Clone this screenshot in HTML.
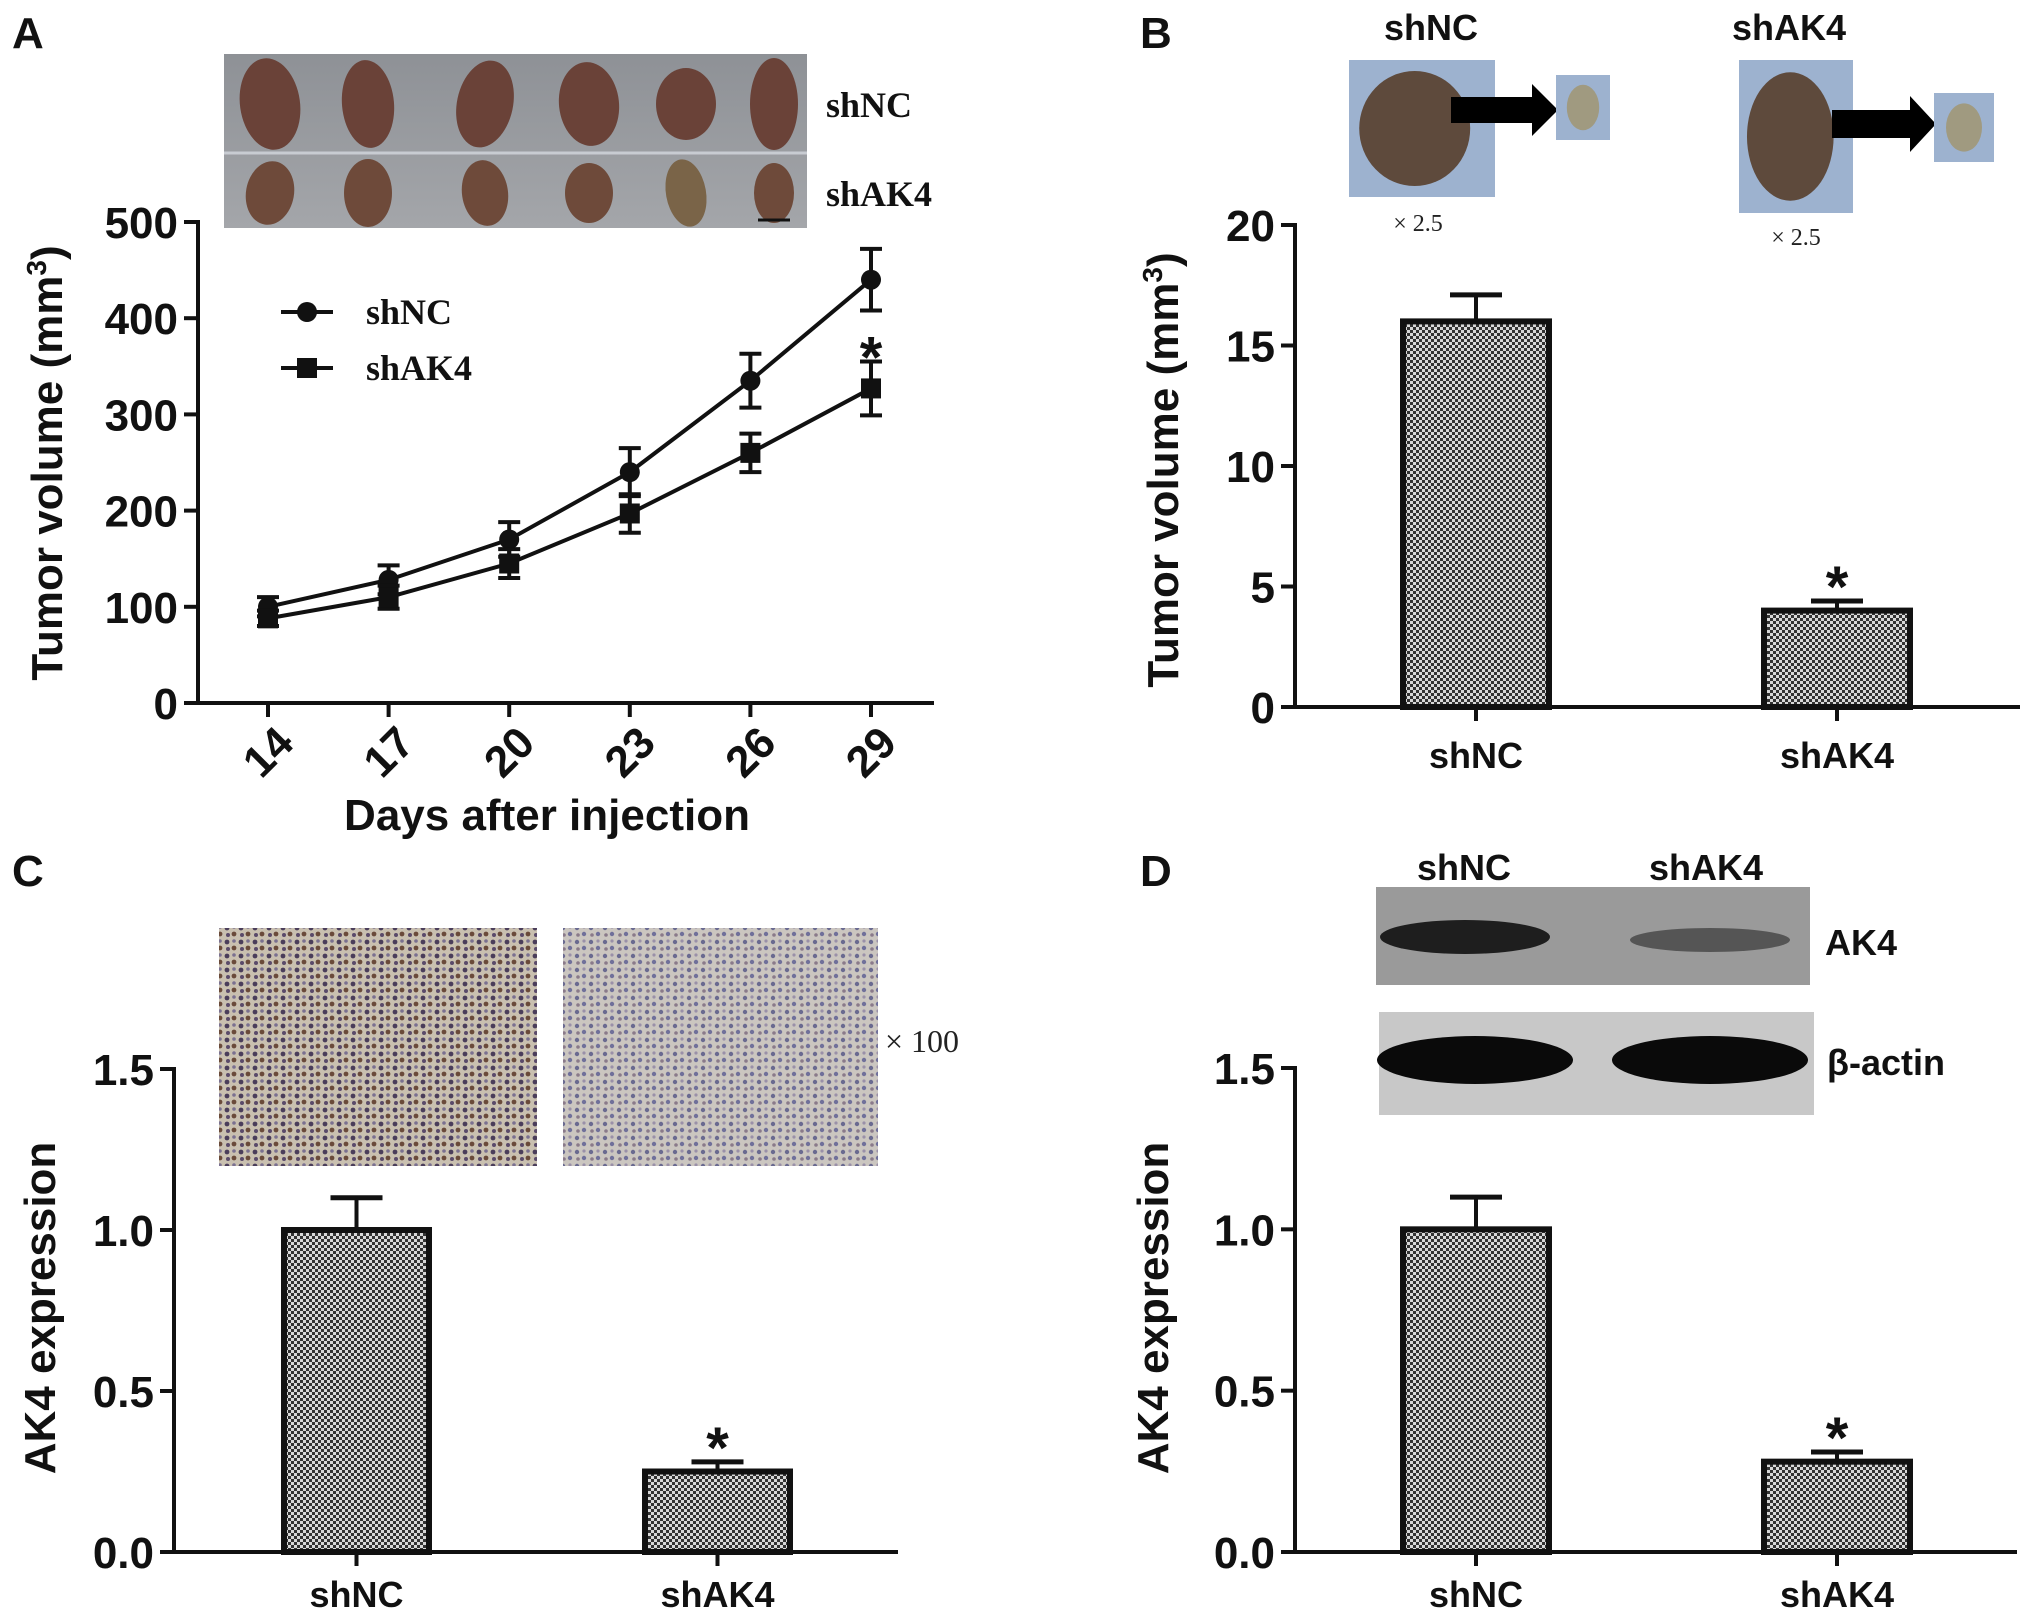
<!DOCTYPE html>
<html><head><meta charset="utf-8"><style>
html,body{margin:0;padding:0;background:#fff;}
svg{display:block;}
.tk{font-family:"Liberation Sans",sans-serif;font-weight:bold;font-size:44px;fill:#111;}
.st{font-family:"Liberation Sans",sans-serif;font-weight:bold;font-size:58px;fill:#111;}
.cat{font-family:"Liberation Sans",sans-serif;font-weight:bold;font-size:36px;fill:#111;}
.ser{font-family:"Liberation Serif",serif;font-weight:bold;font-size:36px;fill:#111;}
.pl{font-family:"Liberation Sans",sans-serif;font-weight:bold;font-size:44px;fill:#111;}
</style></head><body>
<svg id="fig" width="2031" height="1624" viewBox="0 0 2031 1624" xmlns="http://www.w3.org/2000/svg">
<defs>
<pattern id="chk" width="6" height="6" patternUnits="userSpaceOnUse">
<rect width="6" height="6" fill="#d8d8d8"/><rect width="3" height="3" fill="#333"/><rect x="3" y="3" width="3" height="3" fill="#333"/>
</pattern>
<linearGradient id="photoA" x1="0" y1="0" x2="0" y2="1"><stop offset="0" stop-color="#8e9196"/><stop offset="1" stop-color="#a4a6aa"/></linearGradient>
<pattern id="ihc1" width="14" height="14" patternUnits="userSpaceOnUse">
<rect width="14" height="14" fill="#c9c0b0"/><circle cx="3" cy="4" r="2.4" fill="#4a3d5a"/><circle cx="10" cy="10" r="2.4" fill="#6a4a3a"/><circle cx="10" cy="3" r="1.8" fill="#7a7090"/><circle cx="4" cy="11" r="2" fill="#5a4a6a"/>
</pattern>
<pattern id="ihc2" width="14" height="14" patternUnits="userSpaceOnUse">
<rect width="14" height="14" fill="#cbc6c0"/><circle cx="3" cy="4" r="2.2" fill="#6a6a90"/><circle cx="10" cy="10" r="2.2" fill="#70709a"/><circle cx="10" cy="3" r="1.6" fill="#9a90a8"/><circle cx="4" cy="11" r="1.8" fill="#8a7a8a"/>
</pattern>
</defs>
<g id="root"></g>
</svg>
<script>
// ---- Panel A data ----
const daysA = [14, 17, 20, 23, 26, 29];
const shNCvol = [100, 128, 170, 240, 335, 440];
const shNCerr = [10, 15, 18, 25, 28, 32];
const shAK4vol = [88, 110, 145, 197, 260, 327];
const shAK4err = [8, 12, 15, 20, 20, 28];
const ticksA = [0, 100, 200, 300, 400, 500];
// ---- Panel B data ----
const catsB = ["shNC", "shAK4"];
const volB = [16, 4];
const errB = [1.1, 0.4];
const ticksB = [0, 5, 10, 15, 20];
// ---- Panel C data ----
const catsC = ["shNC", "shAK4"];
const exprC = [1.0, 0.25];
const errC = [0.1, 0.03];
const ticksC = ["0.0", "0.5", "1.0", "1.5"];
// ---- Panel D data ----
const catsD = ["shNC", "shAK4"];
const exprD = [1.0, 0.28];
const errD = [0.1, 0.03];
const ticksD = ["0.0", "0.5", "1.0", "1.5"];

const NS = "http://www.w3.org/2000/svg";
const root = document.getElementById("root");
function mk(tag, attrs, parent, text) {
  const e = document.createElementNS(NS, tag);
  for (const k in attrs) e.setAttribute(k, attrs[k]);
  if (text !== undefined) e.textContent = text;
  (parent || root).appendChild(e);
  return e;
}
function line(x1, y1, x2, y2, w, p) { return mk("line", {x1, y1, x2, y2, stroke: "#111", "stroke-width": w || 4}, p); }

// ================= Panel A =================
const gA = mk("g", {});


const lblA = mk("text", {x: 12, y: 48, class: "pl"}, gA, "A");


const phA = mk("g", {}, gA);


mk("rect", {x: 224, y: 54, width: 583, height: 174, fill: "url(#photoA)"}, phA);
mk("line", {x1: 224, y1: 153, x2: 807, y2: 153, stroke: "#c8ccd2", "stroke-width": 3}, phA);
const tumX = [270, 368, 485, 589, 686, 774];
const tumR1 = [[30,46,-8],[26,44,-5],[28,44,12],[30,42,-6],[30,36,0],[24,46,0]];
const tumR2 = [[24,32,10],[24,34,0],[23,33,-8],[24,30,0],[20,34,-10],[20,30,0]];
tumX.forEach((x, i) => {
  mk("ellipse", {cx: x, cy: 104, rx: tumR1[i][0], ry: tumR1[i][1], fill: "#6a4238", transform: `rotate(${tumR1[i][2]},${x},104)`}, phA);
  mk("ellipse", {cx: x, cy: 193, rx: tumR2[i][0], ry: tumR2[i][1], fill: i===4?"#7a6448":"#6e4a3a", transform: `rotate(${tumR2[i][2]},${x},193)`}, phA);
});
mk("line", {x1: 758, y1: 220, x2: 790, y2: 220, stroke: "#111", "stroke-width": 3}, phA);
const tA1 = mk("text", {x: 826, y: 117, class: "ser"}, gA, "shNC");


const tA2 = mk("text", {x: 826, y: 206, class: "ser"}, gA, "shAK4");



const axA = {x0: 198, x1: 934, y0: 703, y1: 222, vmax: 500, d0: 268, d1: 871};
const yA = v => axA.y0 - (v / axA.vmax) * (axA.y0 - axA.y1);
const xA = d => axA.d0 + (d - daysA[0]) / (daysA[daysA.length - 1] - daysA[0]) * (axA.d1 - axA.d0);
const axAg = mk("g", {}, gA);


line(axA.x0, axA.y1 - 2, axA.x0, axA.y0 + 2, 4, axAg);
line(axA.x0 - 2, axA.y0, axA.x1, axA.y0, 4, axAg);
ticksA.forEach(t => {
  line(axA.x0 - 14, yA(t), axA.x0, yA(t), 4, axAg);
  const e = mk("text", {x: axA.x0 - 20, y: yA(t) + 16, class: "tk", "text-anchor": "end"}, axAg, String(t));
  
  
});
daysA.forEach(d => {
  line(xA(d), axA.y0, xA(d), axA.y0 + 14, 4, axAg);
  const e = mk("text", {x: 0, y: 0, class: "tk", "text-anchor": "middle", transform: `translate(${xA(d)},${752}) rotate(-45) translate(0,15)`}, axAg, String(d));
  
  
});
const xtA = mk("text", {x: 547, y: 830, class: "tk", "text-anchor": "middle"}, gA, "Days after injection");


const ytA = mk("text", {x: 0, y: 0, class: "tk", "text-anchor": "middle", transform: "translate(62,463) rotate(-90)"}, gA);


ytA.innerHTML = 'Tumor volume (mm<tspan dy="-16" font-size="28">3</tspan><tspan dy="16">)</tspan>';

function series(vals, errs, marker, name) {
  const g = mk("g", {}, gA);
  
  
  mk("polyline", {points: daysA.map((d, i) => `${xA(d)},${yA(vals[i])}`).join(" "), fill: "none", stroke: "#111", "stroke-width": 4}, g);
  daysA.forEach((d, i) => {
    const x = xA(d), hi = yA(vals[i] + errs[i]), lo = yA(vals[i] - errs[i]);
    line(x, hi, x, lo, 4, g); line(x - 11, hi, x + 11, hi, 4, g); line(x - 11, lo, x + 11, lo, 4, g);
    let m;
    if (marker === "circle") m = mk("circle", {cx: x, cy: yA(vals[i]), r: 10, fill: "#111"}, g);
    else m = mk("rect", {x: x - 10, y: yA(vals[i]) - 10, width: 20, height: 20, fill: "#111"}, g);
    
    
  });
}
series(shNCvol, shNCerr, "circle", "series-shnc");
series(shAK4vol, shAK4err, "square", "series-shak4");
const stA = mk("text", {x: xA(29), y: yA(shAK4vol[5] + shAK4err[5]) + 16, class: "st", "text-anchor": "middle"}, gA, "*");


const lgA = mk("g", {}, gA);


line(281, 312, 333, 312, 4, lgA); mk("circle", {cx: 307, cy: 312, r: 10, fill: "#111"}, lgA);
mk("text", {x: 366, y: 324, class: "ser"}, lgA, "shNC");
line(281, 368, 333, 368, 4, lgA); mk("rect", {x: 297, y: 358, width: 20, height: 20, fill: "#111"}, lgA);
mk("text", {x: 366, y: 380, class: "ser"}, lgA, "shAK4");

// ================= Bar chart helper =================
function barPanel(opt) {
  const g = mk("g", {});
  
  
  const y = v => opt.y0 - (v / opt.vmax) * (opt.y0 - opt.y1);
  const ax = mk("g", {}, g);
  
  
  line(opt.x0, opt.y1 - 2, opt.x0, opt.y0 + 2, 4, ax);
  line(opt.x0 - 2, opt.y0, opt.xe, opt.y0, 4, ax);
  opt.ticks.forEach(t => {
    const v = parseFloat(t);
    line(opt.x0 - 14, y(v), opt.x0, y(v), 4, ax);
    const e = mk("text", {x: opt.x0 - 20, y: y(v) + 16, class: "tk", "text-anchor": "end"}, ax, String(t));
    
    
  });
  opt.cats.forEach((c, i) => {
    const bx = opt.bx[i], bw = opt.bw, cx = bx + bw / 2;
    const b = mk("rect", {x: bx, y: y(opt.vals[i]), width: bw, height: opt.y0 - y(opt.vals[i]), fill: "url(#chk)", stroke: "#111", "stroke-width": 6}, g);
    
    
    const hi = y(opt.vals[i] + opt.errs[i]);
    line(cx, hi, cx, y(opt.vals[i]), 4, g);
    line(cx - 26, hi, cx + 26, hi, 5, g);
    line(cx, opt.y0, cx, opt.y0 + 14, 4, ax);
    const e = mk("text", {x: cx, y: opt.labY, class: "cat", "text-anchor": "middle"}, ax, c);
    
    
  });
  const i = 1, cx = opt.bx[i] + opt.bw / 2;
  const st = mk("text", {x: cx, y: y(opt.vals[i] + opt.errs[i]) + 6, class: "st", "text-anchor": "middle"}, g, "*");
  
  
  const yt = mk("text", {x: 0, y: 0, class: "tk", "text-anchor": "middle", transform: `translate(${opt.ytx},${opt.yty}) rotate(-90)`}, g);
  
  
  yt.innerHTML = opt.title;
  const pl = mk("text", {x: opt.plx, y: opt.ply, class: "pl"}, g, opt.label);
  
  
  return g;
}

// ================= Panel B =================
barPanel({name: "panel-b", x0: 1295, xe: 2020, y0: 707, y1: 225, vmax: 20, ticks: ticksB, cats: catsB, vals: volB, errs: errB,
  bx: [1403, 1764], bw: 146, labY: 768, ytx: 1178, yty: 470, plx: 1140, ply: 48, label: "B",
  title: 'Tumor volume (mm<tspan dy="-16" font-size="28">3</tspan><tspan dy="16">)</tspan>'});
const phB = mk("g", {});


function photoSet(px, py, pw, ph, ax, ay, aw, ah, sx, sy, sw, sh, lab, lx, ly, mx, my) {
  mk("rect", {x: px, y: py, width: pw, height: ph, fill: "#9db2cf"}, phB);
  mk("ellipse", {cx: px + pw * 0.45, cy: py + ph * 0.5, rx: pw * 0.38, ry: ph * 0.42, fill: "#5e4a3c"}, phB);
  mk("polygon", {points: `${ax},${ay + ah * 0.25} ${ax + aw - 26},${ay + ah * 0.25} ${ax + aw - 26},${ay} ${ax + aw},${ay + ah / 2} ${ax + aw - 26},${ay + ah} ${ax + aw - 26},${ay + ah * 0.75} ${ax},${ay + ah * 0.75}`, fill: "#000"}, phB);
  mk("rect", {x: sx, y: sy, width: sw, height: sh, fill: "#9db2cf"}, phB);
  mk("ellipse", {cx: sx + sw / 2, cy: sy + sh / 2, rx: sw * 0.3, ry: sh * 0.35, fill: "#a09a80"}, phB);
  mk("text", {x: lx, y: ly, class: "cat", "text-anchor": "middle"}, phB, lab);
  mk("text", {x: mx, y: my, "font-family": "Liberation Serif, serif", "font-size": 24, fill: "#222", "text-anchor": "middle"}, phB, "× 2.5");
}
photoSet(1349, 60, 146, 137, 1451, 84, 107, 52, 1556, 75, 54, 65, "shNC", 1431, 40, 1418, 231);
photoSet(1739, 60, 114, 153, 1832, 96, 104, 56, 1934, 93, 60, 69, "shAK4", 1789, 40, 1796, 245);

// ================= Panel C =================
barPanel({name: "panel-c", x0: 174, xe: 898, y0: 1552, y1: 1069, vmax: 1.5, ticks: ticksC, cats: catsC, vals: exprC, errs: errC,
  bx: [284, 645], bw: 145, labY: 1607, ytx: 55, yty: 1308, plx: 12, ply: 886, label: "C", title: "AK4 expression"});
const phC = mk("g", {});


mk("rect", {x: 219, y: 928, width: 318, height: 238, fill: "url(#ihc1)"}, phC);
mk("rect", {x: 563, y: 928, width: 315, height: 238, fill: "url(#ihc2)"}, phC);
mk("text", {x: 885, y: 1052, "font-family": "Liberation Serif, serif", "font-size": 32, fill: "#222"}, phC, "× 100");

// ================= Panel D =================
barPanel({name: "panel-d", x0: 1295, xe: 2017, y0: 1552, y1: 1068, vmax: 1.5, ticks: ticksD, cats: catsD, vals: exprD, errs: errD,
  bx: [1403, 1764], bw: 146, labY: 1607, ytx: 1168, yty: 1308, plx: 1140, ply: 886, label: "D", title: "AK4 expression"});
const blot = mk("g", {});


mk("rect", {x: 1376, y: 887, width: 434, height: 98, fill: "#9a9a9a"}, blot);
mk("ellipse", {cx: 1465, cy: 937, rx: 85, ry: 17, fill: "#1e1e1e"}, blot);
mk("ellipse", {cx: 1710, cy: 940, rx: 80, ry: 12, fill: "#555"}, blot);
mk("rect", {x: 1379, y: 1012, width: 435, height: 103, fill: "#c8c8c8"}, blot);
mk("ellipse", {cx: 1475, cy: 1060, rx: 98, ry: 24, fill: "#0a0a0a"}, blot);
mk("ellipse", {cx: 1710, cy: 1060, rx: 98, ry: 24, fill: "#0a0a0a"}, blot);
mk("text", {x: 1464, y: 880, class: "cat", "text-anchor": "middle"}, blot, "shNC");
mk("text", {x: 1706, y: 880, class: "cat", "text-anchor": "middle"}, blot, "shAK4");
mk("text", {x: 1825, y: 955, class: "cat"}, blot, "AK4");
mk("text", {x: 1827, y: 1075, class: "cat"}, blot, "β-actin");
</script>
</body></html>
